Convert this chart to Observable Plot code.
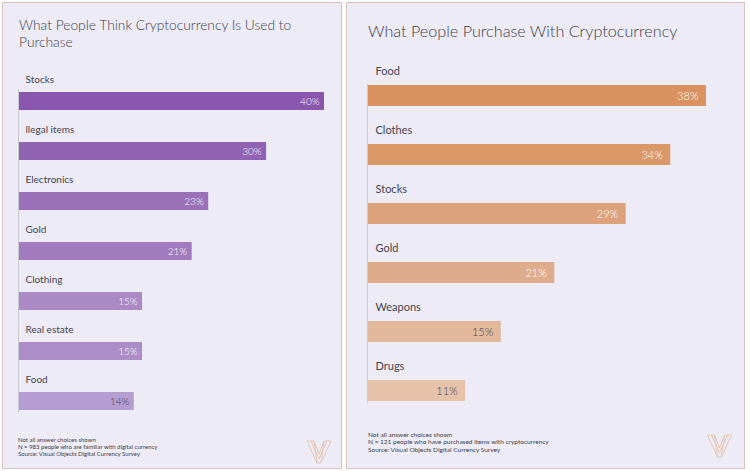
<!DOCTYPE html>
<html>
<head>
<meta charset="utf-8">
<script src="https://cdn.jsdelivr.net/npm/d3@7"></script>
<script src="https://cdn.jsdelivr.net/npm/@observablehq/plot@0.6"></script>
<style>
  html, body { margin: 0; padding: 0; background: #ffffff; }
  body { width: 750px; height: 471px; position: relative; overflow: hidden; font-family: Lato, "Open Sans", sans-serif; }
  .panel { position: absolute; box-sizing: border-box; background: #ecebf6; border: 1.5px solid #d9c3ba; }
  .title { position: absolute; color: #3f3f4a; font-weight: 300; line-height: 1.2; }
  .notes { position: absolute; color: #3d3d48; line-height: 1.15; }
  .chart { position: absolute; top: 0; }
  .logo { position: absolute; }
</style>
</head>
<body>
<div class="panel" style="left:2px;top:2px;width:340px;height:467px;"></div>
<div class="panel" style="left:346px;top:2px;width:399px;height:467px;"></div>

<div class="title" style="left:19px;top:17px;width:300px;font-size:13.8px;">What People Think Cryptocurrency Is Used to Purchase</div>
<div class="title" style="left:368px;top:21px;width:370px;font-size:16.2px;">What People Purchase With Cryptocurrency</div>

<div id="left" class="chart" style="left:0px;"></div>
<div id="right" class="chart" style="left:346px;"></div>

<div class="notes" style="left:18px;top:437px;font-size:6px;">Not all answer choices shown<br>N = 983 people who are familiar with digital currency<br>Source: Visual Objects Digital Currency Survey</div>
<div class="notes" style="left:368px;top:431px;font-size:6.5px;">Not all answer choices shown<br>N = 121 people who have purchased items with cryptocurrency<br>Source: Visual Objects Digital Currency Survey</div>

<svg class="logo" style="left:306px;top:440px;" width="26" height="24" viewBox="0 0 26 24">
  <g fill="none" stroke="#e3c3ad" stroke-width="0.9">
    <polyline points="1,1 8,1 13,14 18,1 25,1 15,23 11,23 1,1"/>
    <polyline points="5,1 13,19 21,1"/>
    <line x1="8" y1="1" x2="11" y2="23"/>
    <line x1="18" y1="1" x2="15" y2="23"/>
  </g>
</svg>
<svg class="logo" style="left:706px;top:434px;" width="27" height="24" viewBox="0 0 26 24">
  <g fill="none" stroke="#e3c3ad" stroke-width="0.9">
    <polyline points="1,1 8,1 13,14 18,1 25,1 15,23 11,23 1,1"/>
    <polyline points="5,1 13,19 21,1"/>
    <line x1="8" y1="1" x2="11" y2="23"/>
    <line x1="18" y1="1" x2="15" y2="23"/>
  </g>
</svg>

<script>
// ---- Data: left chart ----
const leftCategories = ["Stocks", "Illegal items", "Electronics", "Gold", "Clothing", "Real estate", "Food"];
const leftLabels = ["Stocks", "llegal items", "Electronics", "Gold", "Clothing", "Real estate", "Food"];
const leftValues = [40, 30, 23, 21, 15, 15, 14];
const leftColors = ["#8a56ae", "#9062b2", "#9a70b8", "#a17bbd", "#aa89c5", "#ac8dc7", "#b59dd1"];
const leftDarkText = ["Food"];

// ---- Data: right chart ----
const rightCategories = ["Food", "Clothes", "Stocks", "Gold", "Weapons", "Drugs"];
const rightValues = [38, 34, 29, 21, 15, 11];
const rightColors = ["#d9925f", "#da9767", "#dca27c", "#dfac8b", "#e2b89c", "#e6c2aa"];
const rightDarkText = ["Weapons", "Drugs"];

const leftData = leftCategories.map((c, i) => ({category: c, label: leftLabels[i], value: leftValues[i]}));
const rightData = rightCategories.map((c, i) => ({category: c, label: c, value: rightValues[i]}));

function makeChart(data, cats, colors, darkList, opts) {
  return Plot.plot({
    width: opts.width,
    height: opts.height,
    marginLeft: opts.marginLeft,
    marginRight: opts.marginRight,
    marginTop: opts.marginTop,
    marginBottom: opts.marginBottom,
    style: {background: "transparent", fontFamily: "Lato, 'Open Sans', sans-serif", overflow: "visible"},
    x: {domain: opts.xDomain, clamp: true, axis: null},
    y: {domain: cats, axis: null, paddingInner: opts.padding, paddingOuter: 0},
    color: {domain: cats, range: colors},
    marks: [
      Plot.barX(data, {x: "value", y: "category", fill: "category"}),
      Plot.ruleX([0], {stroke: "#c9c9d3", strokeWidth: 1}),
      Plot.text(data, {
        x: 0, y: "category", text: "label", dx: opts.labelDx, dy: opts.labelDy,
        textAnchor: "start", fill: "#45454f", fontSize: opts.labelSize
      }),
      Plot.text(data, {
        x: "value", y: "category", text: d => d.value + "%", dx: opts.valueDx,
        textAnchor: "end", fontSize: opts.valueSize, fontWeight: 300,
        fill: d => darkList.includes(d.category) ? "#4a3f4f" : "#ffffff"
      })
    ]
  });
}

const leftChart = makeChart(leftData, leftCategories, leftColors, leftDarkText, {
  width: 344, height: 471,
  marginLeft: 18, marginRight: 20,
  marginTop: 89, marginBottom: 58.4,
  xDomain: [0, 37], padding: 0.634,
  labelDx: 7, labelDy: -21.5, labelSize: 10,
  valueDx: -5, valueSize: 10
});
document.getElementById("left").appendChild(leftChart);

const rightChart = makeChart(rightData, rightCategories, rightColors, rightDarkText, {
  width: 400, height: 471,
  marginLeft: 21, marginRight: 22.2,
  marginTop: 84, marginBottom: 68.7,
  xDomain: [0, 40], padding: 0.641,
  labelDx: 8, labelDy: -24.5, labelSize: 11,
  valueDx: -8, valueSize: 11
});
document.getElementById("right").appendChild(rightChart);
</script>
</body>
</html>
